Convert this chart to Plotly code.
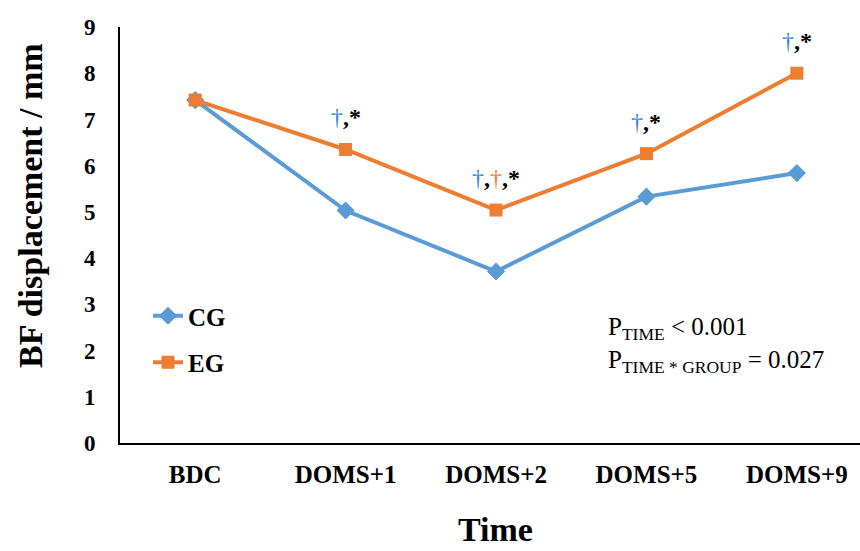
import plotly.graph_objects as go

categories = ["BDC", "DOMS+1", "DOMS+2", "DOMS+5", "DOMS+9"]
cg_values = [7.42, 5.03, 3.71, 5.33, 5.84]
eg_values = [7.42, 6.35, 5.04, 6.26, 8.0]
sig_labels = ["", "b,s", "b,o,s", "b,s", "b,s"]
y_ticks = [0, 1, 2, 3, 4, 5, 6, 7, 8, 9]

BLUE = "#5B9BD5"
ORANGE = "#ED7D31"
DAG_BLUE = "#2E86D0"
FONT = "Liberation Serif"

W, H = 860, 551
ml, mr, mt, mb = 120, 0, 27, 108
PW, PH = W - ml - mr, H - mt - mb

fig = go.Figure()
fig.add_trace(go.Scatter(
    x=categories, y=cg_values, name="CG", mode="lines+markers",
    line=dict(color=BLUE, width=4),
    marker=dict(symbol="diamond", size=14, color=BLUE),
    legendgroup="cg"))
fig.add_trace(go.Scatter(
    x=categories, y=eg_values, name="EG", mode="lines+markers",
    line=dict(color=ORANGE, width=4),
    marker=dict(symbol="square", size=13, color=ORANGE),
    legendgroup="eg"))

def sig_text(code):
    parts = []
    for c in code.split(","):
        if c == "b":
            parts.append(f"<span style='color:{DAG_BLUE}'>†</span>")
        elif c == "o":
            parts.append(f"<span style='color:{ORANGE}'>†</span>")
        elif c == "s":
            parts.append("<b>*</b>")
    return "<b>,</b>".join(parts)

for cat, lab, cgv, egv in zip(categories, sig_labels, cg_values, eg_values):
    if not lab:
        continue
    top = max(cgv, egv)
    fig.add_annotation(x=cat, y=top, yref="y", text=sig_text(lab),
                       showarrow=False, yshift=32,
                       font=dict(family=FONT, size=24, color="black"))

fig.add_annotation(
    xref="paper", yref="paper", x=(606 - ml) / PW, y=(443 - 345) / PH,
    xanchor="left", yanchor="middle", showarrow=False, align="left",
    text="P<sub>TIME</sub> < 0.001<br>P<sub>TIME * GROUP</sub> = 0.027",
    font=dict(family=FONT, size=25, color="black"))

fig.add_annotation(
    xref="paper", yref="paper", x=(30 - ml) / PW, y=(443 - 206) / PH,
    xanchor="center", yanchor="middle", showarrow=False, textangle=-90,
    text="<b>BF displacement / mm</b>",
    font=dict(family=FONT, size=34, color="black"))

fig.add_annotation(
    xref="paper", yref="paper", x=(495 - ml) / PW, y=(443 - 550) / PH,
    xanchor="center", yanchor="bottom", showarrow=False,
    text="<b>Time</b>",
    font=dict(family=FONT, size=34, color="black"))

fig.update_layout(
    width=W, height=H,
    margin=dict(l=ml, r=mr, t=mt, b=mb),
    paper_bgcolor="white", plot_bgcolor="white",
    font=dict(family=FONT, color="black"),
    showlegend=True,
    legend=dict(x=(148 - ml) / PW, y=(443 - 293) / PH,
                xanchor="left", yanchor="top", bgcolor="rgba(0,0,0,0)",
                font=dict(family=FONT, size=25, color="black", weight="bold"),
                tracegroupgap=11, itemwidth=30),
    xaxis=dict(type="category", range=[-0.5, 4.42], showgrid=False, automargin=False,
               showline=True, linecolor="black", linewidth=2, ticks="",
               tickfont=dict(family=FONT, size=25, color="black", weight="bold"),
               ticklabelstandoff=8),
    yaxis=dict(range=[0, 9], tickvals=y_ticks, showgrid=False, zeroline=False, automargin=False,
               showline=True, linecolor="black", linewidth=2, ticks="",
               tickfont=dict(family=FONT, size=23, color="black", weight="bold"),
               ticklabelstandoff=18),
)

fig.write_html("out.html")
